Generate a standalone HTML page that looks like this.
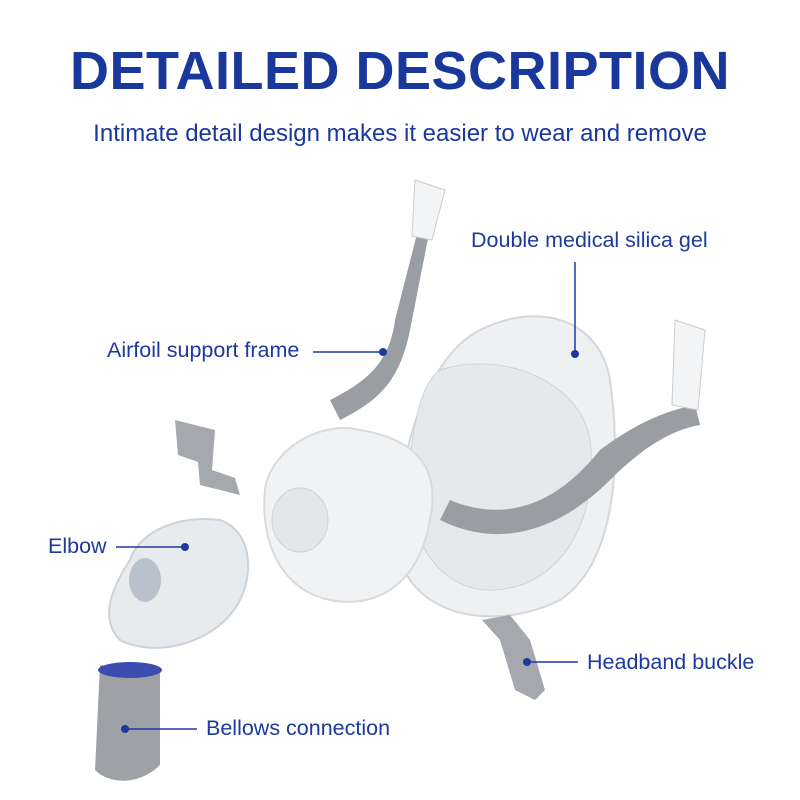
<!DOCTYPE html>
<html><head><meta charset="utf-8"><style>
body{margin:0;background:#fff;}
.wrap{position:relative;width:800px;height:800px;overflow:hidden;font-family:"Liberation Sans",sans-serif;}
.t{position:absolute;left:0;width:800px;text-align:center;color:#1a389c;}
.lab{position:absolute;color:#1c3a9e;font-size:21.5px;white-space:nowrap;}
</style></head><body><div class="wrap">
<div class="t" style="top:40px;font-size:54px;font-weight:bold;letter-spacing:0.5px;">DETAILED DESCRIPTION</div>
<div class="t" style="top:120px;font-size:24px;">Intimate detail design makes it easier to wear and remove</div>
<svg width="800" height="800" style="position:absolute;left:0;top:0">
<path d="M480 330 C540 300 600 320 610 380 C620 450 620 560 560 600 C500 630 420 620 400 560 C390 480 420 360 480 330Z" fill="#eef0f2" stroke="#d4d8dc" stroke-width="2"/>
<path d="M440 370 C500 350 580 380 590 440 C600 520 560 590 490 590 C430 590 400 520 410 460 C415 410 425 380 440 370Z" fill="#e6e9ec" stroke="#cfd3d7"/>
<path d="M265 490 C270 450 320 420 360 430 C420 440 440 470 430 520 C420 580 380 610 330 600 C280 590 260 540 265 490Z" fill="#f1f2f4" stroke="#d8dbde" stroke-width="2"/>
<ellipse cx="300" cy="520" rx="28" ry="32" fill="#e4e6e9" stroke="#d0d4d8"/>
<path d="M418 230 L432 218 L410 330 C400 380 380 400 340 420 L330 400 C370 380 390 360 395 320 Z" fill="#9a9da1"/>
<path d="M415 180 L445 190 L432 240 L412 236 Z" fill="#f3f4f5" stroke="#ccc"/>
<path d="M600 450 C640 420 670 410 695 405 L700 425 C670 430 640 450 610 480 C560 530 500 550 440 520 L450 500 C510 525 560 500 600 450Z" fill="#9a9da1"/>
<path d="M675 320 L705 330 L698 410 L672 405 Z" fill="#f3f4f5" stroke="#ccc"/>
<path d="M175 420 L215 430 L212 470 L235 478 L240 495 L200 485 L198 462 L178 455 Z" fill="#a5a8ac"/>
<path d="M130 560 C140 530 180 515 220 520 C250 530 255 570 240 600 C220 640 160 660 120 640 C100 620 110 590 130 560Z" fill="#e8ebee" stroke="#cdd2d7" stroke-width="2"/>
<ellipse cx="145" cy="580" rx="16" ry="22" fill="#b9c2cc"/>
<path d="M482 620 L510 615 L530 640 L545 690 L535 700 L515 690 L500 640 Z" fill="#a5a8ac"/>
<path d="M100 665 L160 672 L160 765 C140 785 110 785 95 770 Z" fill="#9ea1a5"/>
<ellipse cx="130" cy="670" rx="32" ry="8" fill="#3b4db0"/>
<g stroke="#1c3a9e" stroke-width="1.5">
<line x1="575" y1="262" x2="575" y2="352"/>
<line x1="313" y1="352" x2="382" y2="352"/>
<line x1="116" y1="547" x2="183" y2="547"/>
<line x1="527" y1="662" x2="578" y2="662"/>
<line x1="125" y1="729" x2="197" y2="729"/>
</g>
<g fill="#1c3a9e"><circle cx="575" cy="354" r="4"/><circle cx="383" cy="352" r="4"/><circle cx="185" cy="547" r="4"/><circle cx="527" cy="662" r="4"/><circle cx="125" cy="729" r="4"/></g>
</svg>
<div class="lab" style="left:471px;top:228px;">Double medical silica gel</div>
<div class="lab" style="left:107px;top:338px;">Airfoil support frame</div>
<div class="lab" style="left:48px;top:534px;">Elbow</div>
<div class="lab" style="left:587px;top:650px;">Headband buckle</div>
<div class="lab" style="left:206px;top:716px;">Bellows connection</div>
</div></body></html>
